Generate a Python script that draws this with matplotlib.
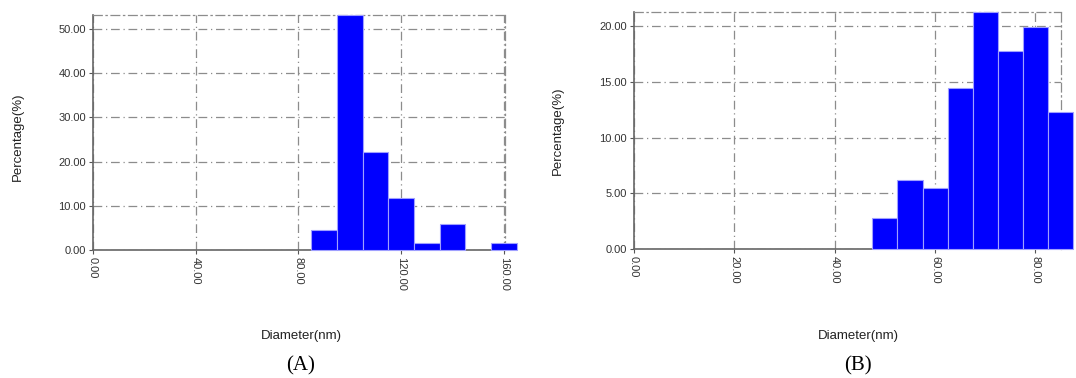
import numpy as np
import matplotlib
matplotlib.use("Agg")
import matplotlib.pyplot as plt

# Size distribution, sample A (bin width 10 nm)
a_centers = [90, 100, 110, 120, 130, 140, 150, 160]
a_percent = [4.5, 53.2, 22.1, 11.8, 1.6, 5.9, 0.0, 1.6]
a_ticks = [0, 40, 80, 120, 160]
a_yticks = [0, 10, 20, 30, 40, 50]

# Size distribution, sample B (bin width 5 nm)
b_centers = [50, 55, 60, 65, 70, 75, 80, 85]
b_percent = [2.8, 6.2, 5.5, 14.4, 21.26, 17.8, 19.9, 12.3]
b_ticks = [0, 20, 40, 60, 80]
b_yticks = [0, 5, 10, 15, 20]

BAR_COLOR = "#0000FF"
GRID_DASH = (0, (7, 3, 1, 3))

plt.rcParams["font.family"] = ["Liberation Sans", "DejaVu Sans"]

fig = plt.figure(figsize=(10.76, 3.78), dpi=100)


def draw_panel(rect, centers, values, width, xlim, xticks, yticks, tag, tag_x):
    ax = fig.add_axes(rect)
    # empty bins are left out so no outline is drawn on the baseline
    keep = [i for i, v in enumerate(values) if v > 0]
    ax.bar([centers[i] for i in keep], [values[i] for i in keep], width=width,
           color=BAR_COLOR, edgecolor="#a0a0ff", linewidth=0.8, clip_on=False,
           zorder=3)
    ax.set_xlim(*xlim)
    ax.set_ylim(0, max(values))
    ax.set_xticks(xticks)
    ax.set_xticklabels([f"{t:.2f}" for t in xticks], rotation=-90, fontsize=8,
                       color="#333333")
    ax.set_yticks(yticks)
    ax.set_yticklabels([f"{t:.2f}" for t in yticks], fontsize=8, color="#333333")
    ax.tick_params(length=3, width=0.8, color="#555555", pad=2)
    ax.grid(True, color="#8c8c8c", linestyle=GRID_DASH, linewidth=0.9, zorder=0)
    ax.set_axisbelow(True)
    for s in ["left", "bottom"]:
        ax.spines[s].set_color("#666666")
        ax.spines[s].set_linewidth(1.2)
    for s in ["top", "right"]:
        ax.spines[s].set_color("#8c8c8c")
        ax.spines[s].set_linestyle(GRID_DASH)
        ax.spines[s].set_linewidth(0.9)
    ax.set_ylabel("Percentage(%)", fontsize=9.5, color="#222222")
    fig.text(tag_x, 1 - 336 / 378, "Diameter(nm)", ha="center", va="center",
             fontsize=9.5, color="#222222")
    fig.text(tag_x, 1 - 366 / 378, tag, ha="center", va="center", fontsize=15,
             family=["Liberation Serif", "DejaVu Serif"])
    return ax


ax_a = draw_panel([93 / 1076, 128 / 378, 412 / 1076, 235 / 378],
                  a_centers, a_percent, 10, (0, 160.5), a_ticks, a_yticks,
                  "(A)", 301 / 1076)
ax_a.yaxis.set_label_coords(-0.168, 0.48)

ax_b = draw_panel([634 / 1076, 129 / 378, 427 / 1076, 237 / 378],
                  b_centers, b_percent, 5, (0, 85.1), b_ticks, b_yticks,
                  "(B)", 858 / 1076)
ax_b.yaxis.set_label_coords(-0.164, 0.5)

fig.savefig("out.png", dpi=100)
